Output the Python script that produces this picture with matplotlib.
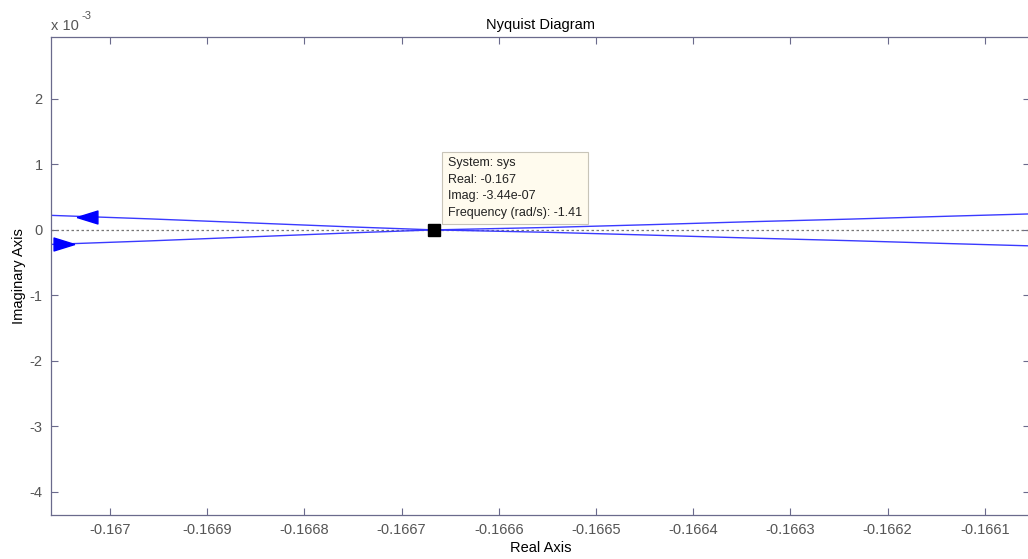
import matplotlib.pyplot as plt
from matplotlib.path import Path

plt.rcParams['font.family'] = ['Liberation Sans', 'DejaVu Sans']
plt.rcParams['axes.unicode_minus'] = False

# branch (imag in units of 1e-3), upper half; lower is its mirror
real_pts = [-0.1670608, -0.1669588, -0.1668558, -0.1667528, -0.1666667,
            -0.1665469, -0.1664439, -0.1663409, -0.1662379, -0.1661349, -0.1660535]
imag_upper = [0.222, 0.168, 0.107, 0.046, 0.0,
              0.038, 0.080, 0.125, 0.165, 0.210, 0.244]
imag_lower = [-v for v in imag_upper]

# arrows on the branches
arrow_up_x, arrow_up_y = -0.1670237, 0.200
arrow_dn_x, arrow_dn_y = -0.1670474, -0.215

# data tip
tip_x, tip_y = -0.1666667, 0.0
tip_text = "System: sys\nReal: -0.167\nImag: -3.44e-07\nFrequency (rad/s): -1.41"

xticks = [-0.167, -0.1669, -0.1668, -0.1667, -0.1666, -0.1665, -0.1664, -0.1663, -0.1662, -0.1661]
xticklabels = ['-0.167', '-0.1669', '-0.1668', '-0.1667', '-0.1666', '-0.1665',
               '-0.1664', '-0.1663', '-0.1662', '-0.1661']
yticks = [-4, -3, -2, -1, 0, 1, 2]

axcol = '#6a6a8c'
blue = '#3a3aff'
fs = 10.5

fig = plt.figure(figsize=(10.28, 5.59), dpi=100)
ax = fig.add_axes([51/1028, 1-515/559, (1030-51)/1028, (515-37)/559])

ax.axhline(0, color='#777777', lw=0.9, ls=(0, (2, 2)))
ax.plot(real_pts, imag_upper, color=blue, lw=1.0)
ax.plot(real_pts, imag_lower, color=blue, lw=1.0)

left_tri = Path([(-1, 0), (1, 0.62), (1, -0.62), (-1, 0)])
right_tri = Path([(1, 0), (-1, 0.62), (-1, -0.62), (1, 0)])
ax.plot([arrow_up_x], [arrow_up_y], marker=left_tri, ms=15, color='#0000ff', mec='#0000ff')
ax.plot([arrow_dn_x], [arrow_dn_y], marker=right_tri, ms=15, color='#0000ff', mec='#0000ff')

ax.plot([tip_x], [tip_y], marker='s', ms=8, color='black')
ax.annotate(tip_text, xy=(tip_x, tip_y), xytext=(10, 8), textcoords='offset points',
            ha='left', va='bottom', fontsize=9, color='#222222', linespacing=1.5,
            bbox=dict(boxstyle='square,pad=0.45', fc='#fffbee', ec='#c8c4b8', lw=0.8))

ax.set_xlim(-0.1670608, -0.1660535)
ax.set_ylim(-4.356, 2.947)
ax.set_xticks(xticks)
ax.set_xticklabels(xticklabels)
ax.set_yticks(yticks)
ax.tick_params(direction='in', length=5, color=axcol, labelcolor='#555555',
               labelsize=fs, top=True, right=True, pad=6)
for s in ax.spines.values():
    s.set_color(axcol)
    s.set_linewidth(0.9)

ax.set_title('Nyquist Diagram', fontsize=fs, pad=6)
ax.set_xlabel('Real Axis', fontsize=fs, labelpad=3)
ax.set_ylabel('Imaginary Axis', fontsize=fs)
ax.yaxis.set_label_coords(-0.026, 0.5)
ax.text(0.0, 1.008, 'x 10', transform=ax.transAxes, fontsize=fs,
        color='#555555', ha='left', va='bottom')
ax.text(0.031, 1.033, '-3', transform=ax.transAxes, fontsize=8,
        color='#555555', ha='left', va='bottom')

fig.savefig('out.png', dpi=100)
